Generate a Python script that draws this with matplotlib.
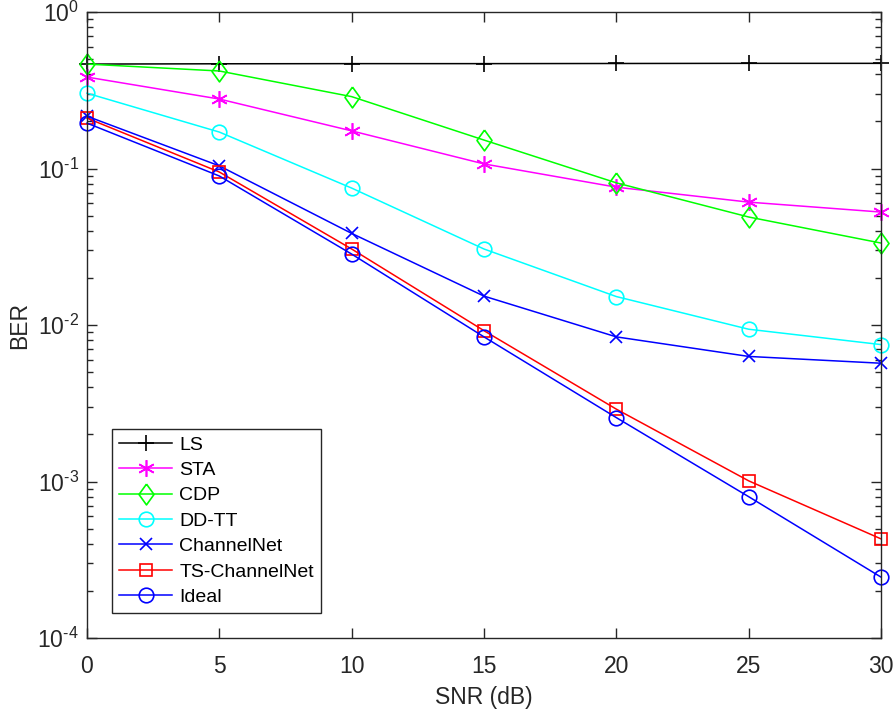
import matplotlib
matplotlib.use("Agg")
import matplotlib.pyplot as plt
from matplotlib.ticker import FuncFormatter
import numpy as np

plt.rcParams['font.family'] = ['Liberation Sans', 'DejaVu Sans']
plt.rcParams['mathtext.fontset'] = 'custom'
plt.rcParams['mathtext.rm'] = 'Liberation Sans'
plt.rcParams['mathtext.it'] = 'Liberation Sans:italic'
plt.rcParams['mathtext.bf'] = 'Liberation Sans:bold'

snr = [0, 5, 10, 15, 20, 25, 30]
ber_ls = [0.465, 0.467, 0.468, 0.468, 0.469, 0.47, 0.47]
ber_sta = [0.384, 0.278, 0.174, 0.107, 0.076, 0.061, 0.0527]
ber_cdp = [0.465, 0.42, 0.288, 0.152, 0.081, 0.049, 0.0334]
ber_ddtt = [0.303, 0.171, 0.075, 0.0306, 0.0152, 0.0094, 0.0075]
ber_cnet = [0.216, 0.104, 0.0385, 0.0153, 0.0084, 0.0063, 0.0057]
ber_ts = [0.21, 0.095, 0.0306, 0.0092, 0.0029, 0.00101, 0.00043]
ber_ideal = [0.195, 0.0896, 0.0284, 0.0084, 0.00256, 0.00080, 0.000245]

labels = ['LS', 'STA', 'CDP', 'DD-TT', 'ChannelNet', 'TS-ChannelNet', 'Ideal']

diamond = [(0, 1), (0.72, 0), (0, -1), (-0.72, 0), (0, 1)]
dark = '#262626'

fig = plt.figure(figsize=(8.94, 7.16), dpi=100)
ax = fig.add_axes([0.0973, 0.1089, 0.8882, 0.8743])

lw = 1.1
common = dict(lw=lw, mew=1.2, clip_on=False)
ax.semilogy(snr, ber_ls, color='black', marker='+', ms=11, label=labels[0], **common)
ax.semilogy(snr, ber_sta, color=(1, 0, 1), marker=(6, 2, 0), ms=12, label=labels[1], **common)
ax.semilogy(snr, ber_cdp, color=(0, 1, 0), marker=diamond, ms=15, mfc='none', label=labels[2], **common)
ax.semilogy(snr, ber_ddtt, color=(0, 1, 1), marker='o', ms=10.5, mfc='none', label=labels[3], **common)
ax.semilogy(snr, ber_cnet, color=(0, 0, 1), marker='x', ms=8, label=labels[4], **common)
ax.semilogy(snr, ber_ts, color=(1, 0, 0), marker='s', ms=9, mfc='none', label=labels[5], **common)
ax.semilogy(snr, ber_ideal, color=(0, 0, 1), marker='o', ms=10.5, mfc='none', label=labels[6], **common)

ax.set_xlim(0, 30)
ax.set_ylim(1e-4, 1e0)
ax.set_xticks(snr)
ax.set_yticks([1e-4, 1e-3, 1e-2, 1e-1, 1e0])


def fmt_pow(v, pos):
    e = int(round(np.log10(v)))
    if e < 0:
        return r'$\mathregular{10^{\text{-}%d}}$' % (-e)
    return r'$\mathregular{10^{%d}}$' % e


ax.yaxis.set_major_formatter(FuncFormatter(fmt_pow))
ax.tick_params(which='both', direction='in', top=True, right=True, labelsize=16.5, colors=dark)
ax.tick_params(which='major', length=7, width=1)
ax.tick_params(which='minor', length=4, width=1)
ax.tick_params(axis='x', which='major', pad=12)
ax.tick_params(axis='y', which='major', pad=6)
ax.tick_params(axis='x', which='minor', bottom=False, top=False)
for s in ax.spines.values():
    s.set_color(dark)
    s.set_linewidth(1.0)

ax.set_xlabel('SNR (dB)', fontsize=16.5, color=dark, labelpad=6)
ax.set_ylabel('BER', fontsize=16.5, color=dark, labelpad=4)

leg = ax.legend(loc='lower left', bbox_to_anchor=(112 / 894, 1 - 613 / 716), bbox_transform=fig.transFigure,
                borderaxespad=0, fontsize=14, frameon=True,
                fancybox=False, edgecolor=dark, framealpha=1, handlelength=2.75,
                borderpad=0.36, labelspacing=0.40, handletextpad=0.36)
leg.get_frame().set_linewidth(1.0)

fig.savefig('out.png', dpi=100)
